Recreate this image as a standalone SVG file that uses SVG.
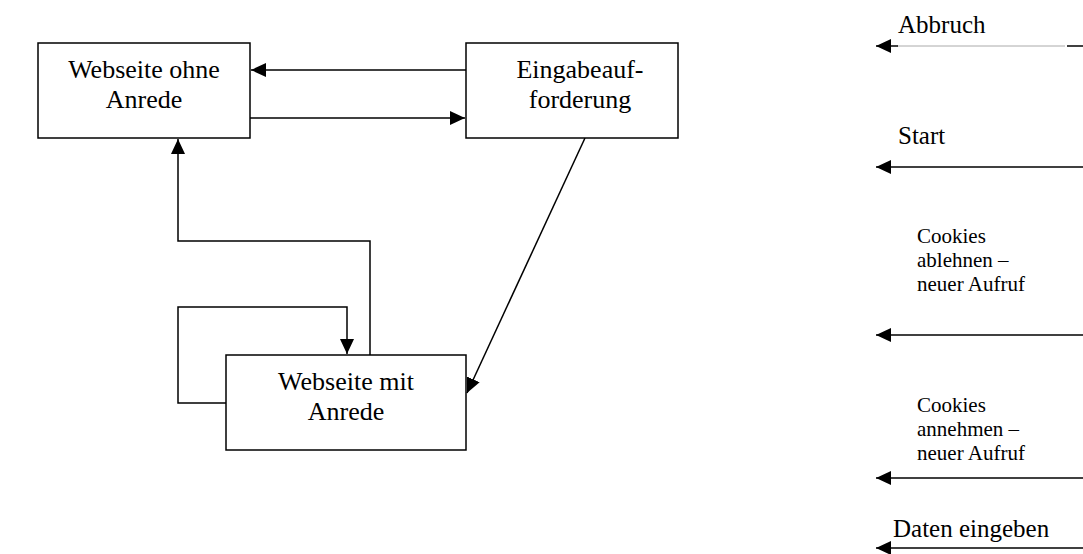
<svg xmlns="http://www.w3.org/2000/svg" width="1083" height="554" viewBox="0 0 1083 554">
<style>
.box{fill:#fff;stroke:#000;stroke-width:1.5}
.t{font-family:"Liberation Serif","Times New Roman",serif;font-size:26px;fill:#000}
.l{font-family:"Liberation Serif","Times New Roman",serif;font-size:25px;fill:#000}
.s{font-family:"Liberation Serif","Times New Roman",serif;font-size:21px;fill:#000}
.c{fill:none;stroke:#000;stroke-width:1.5}
</style>
<defs>
<marker id="ah" markerUnits="userSpaceOnUse" markerWidth="16" markerHeight="14" refX="15" refY="7" orient="auto">
<path d="M0,0 L15,7 L0,14 z" fill="#000"/>
</marker>
</defs>
<rect width="1083" height="554" fill="#fff"/>
<g id="connectors">
<line class="c" x1="466" y1="70" x2="251" y2="70" marker-end="url(#ah)"/>
<line class="c" x1="250" y1="118" x2="465" y2="118" marker-end="url(#ah)"/>
<line class="c" x1="585" y1="138" x2="467" y2="393" marker-end="url(#ah)"/>
<polyline class="c" points="370,355 370,241 178,241 178,139" marker-end="url(#ah)"/>
<polyline class="c" points="226,403 178,403 178,307 347,307 347,354" marker-end="url(#ah)"/>
</g>
<g id="node-webseite-ohne-anrede">
<rect class="box" x="38" y="43" width="212" height="95"/>
<text class="t" x="144" y="78" text-anchor="middle">Webseite ohne</text>
<text class="t" x="144" y="108" text-anchor="middle">Anrede</text>
</g>
<g id="node-eingabeaufforderung">
<rect class="box" x="466" y="43" width="212" height="95"/>
<text class="t" x="580" y="78" text-anchor="middle">Eingabeauf-</text>
<text class="t" x="580" y="108" text-anchor="middle">forderung</text>
</g>
<g id="node-webseite-mit-anrede">
<rect class="box" x="226" y="355" width="240" height="95"/>
<text class="t" x="346" y="390" text-anchor="middle">Webseite mit</text>
<text class="t" x="346" y="420" text-anchor="middle">Anrede</text>
</g>
<g id="legend">
<text class="l" x="898" y="33">Abbruch</text>
<line x1="1067" y1="46" x2="1083" y2="46" stroke="#000" stroke-width="1.5"/>
<line x1="897" y1="46" x2="1065" y2="46" stroke="#aaa" stroke-width="1"/>
<line class="c" x1="898" y1="46" x2="876" y2="46" marker-end="url(#ah)"/>
<text class="l" x="898" y="144">Start</text>
<line class="c" x1="1083" y1="167" x2="876" y2="167" marker-end="url(#ah)"/>
<text class="s" x="917" y="243">Cookies</text>
<text class="s" x="917" y="267">ablehnen –</text>
<text class="s" x="917" y="291">neuer Aufruf</text>
<line class="c" x1="1083" y1="335" x2="876" y2="335" marker-end="url(#ah)"/>
<text class="s" x="917" y="412">Cookies</text>
<text class="s" x="917" y="436">annehmen –</text>
<text class="s" x="917" y="460">neuer Aufruf</text>
<line class="c" x1="1083" y1="478" x2="876" y2="478" marker-end="url(#ah)"/>
<text class="l" x="893" y="537">Daten eingeben</text>
<line class="c" x1="1083" y1="548" x2="876" y2="548" marker-end="url(#ah)"/>
</g>
</svg>
